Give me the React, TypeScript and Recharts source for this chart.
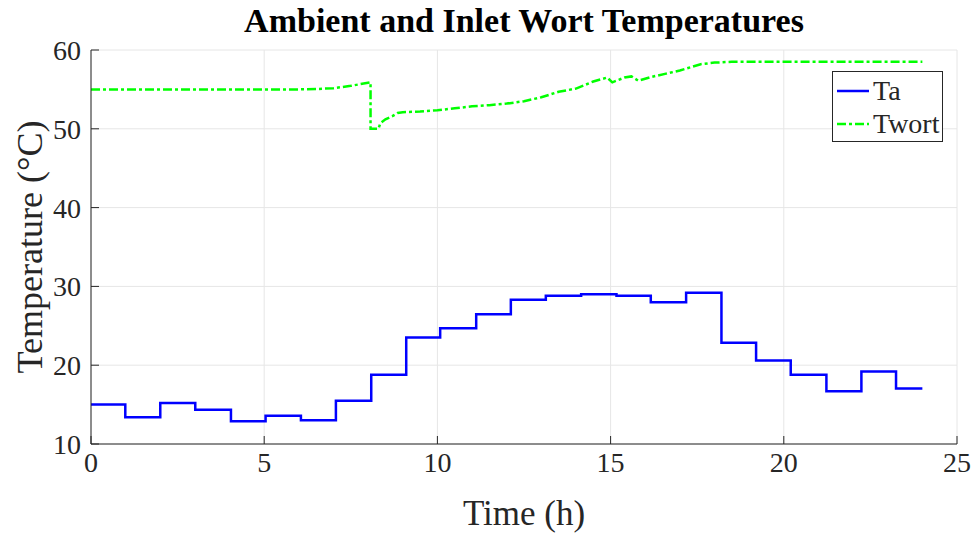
import { LineChart, Line, XAxis, YAxis, CartesianGrid, Legend } from 'recharts';

// Ambient temperature stairs: step start times (h) and the value held from each one
const taHours = [
  0, 0.99, 2.0, 3.01, 4.04, 5.04, 6.06, 7.07, 8.09, 9.1, 10.08, 11.12, 12.12, 13.13,
  14.15, 15.17, 16.16, 17.18, 18.2, 19.2, 20.2, 21.23, 22.24, 23.24, 24,
];
const taTemp = [
  15.0, 13.4, 15.2, 14.35, 12.9, 13.6, 13.0, 15.5, 18.8, 23.5, 24.7, 26.45, 28.3,
  28.8, 29.0, 28.8, 28.0, 29.2, 22.85, 20.6, 18.8, 16.7, 19.2, 17.05, 17.05,
];

// Inlet wort temperature
const twortTime = [
  0, 1, 2, 3, 4, 5, 6, 6.5, 7, 7.5, 8.07, 8.07, 8.3, 8.35, 8.5, 8.7, 8.85, 9, 9.5, 10,
  10.5, 11, 11.5, 12, 12.5, 13, 13.5, 14, 14.5, 14.9, 15.05, 15.4, 15.6, 15.8, 16.2,
  16.6, 17, 17.3, 17.6, 18, 18.5, 19, 20, 21, 22, 23, 24,
];
const twortTemp = [
  55, 55, 55, 55, 55, 55, 55, 55.05, 55.15, 55.45, 55.9, 50, 50, 50.7, 51.2, 51.6, 52.0,
  52.1, 52.2, 52.35, 52.6, 52.85, 53.0, 53.2, 53.5, 54.0, 54.7, 55.1, 56.0, 56.5, 55.9,
  56.5, 56.65, 56.1, 56.6, 57.0, 57.4, 57.8, 58.2, 58.4, 58.5, 58.5, 58.5, 58.5, 58.5,
  58.5, 58.5,
];

const xTicks = [0, 5, 10, 15, 20, 25];
const yTicks = [10, 20, 30, 40, 50, 60];

const taData = taHours.map((t, i) => ({ t, ta: taTemp[i] }));
const twortData = twortTime.map((t, i) => ({ t, twort: twortTemp[i] }));

const FONT = '"Liberation Serif", "DejaVu Serif", serif';
const INK = '#262626';
const BLUE = '#0000ff';
const GREEN = '#00ff00';
const DASH = '9 3 3 3';

const legendItems = [
  { name: 'Ta', color: BLUE, dash: undefined as string | undefined },
  { name: 'Twort', color: GREEN, dash: DASH },
];

function LegendBox() {
  return (
    <div
      style={{
        border: `1px solid ${INK}`,
        background: '#fff',
        padding: '2px 3px 1px 3px',
        fontFamily: FONT,
        fontSize: 28,
        color: INK,
        lineHeight: '33px',
      }}
    >
      {legendItems.map((it) => (
        <div key={it.name} style={{ display: 'flex', alignItems: 'center' }}>
          <svg width={34} height={10} style={{ marginRight: 3 }}>
            <line x1={1} y1={5} x2={33} y2={5} stroke={it.color} strokeWidth={2.5} strokeDasharray={it.dash} />
          </svg>
          <span>{it.name}</span>
        </div>
      ))}
    </div>
  );
}

const tickStyle = { fontFamily: FONT, fontSize: 28, fill: INK };

export default function App() {
  return (
    <div style={{ position: 'absolute', left: 0, top: 0, width: 977, height: 533, background: '#fff' }}>
      <div
        style={{
          position: 'absolute',
          left: 91,
          width: 866,
          top: 2,
          textAlign: 'center',
          fontFamily: FONT,
          fontWeight: 'bold',
          fontSize: 34,
          color: '#000',
        }}
      >
        Ambient and Inlet Wort Temperatures
      </div>
      <LineChart width={977} height={533} margin={{ top: 50, right: 20, bottom: 0, left: 0 }}>
        <CartesianGrid xAxisId="b" yAxisId="l" stroke="#e6e6e6" strokeWidth={1} />
        <XAxis
          xAxisId="b"
          dataKey="t"
          type="number"
          domain={[0, 25]}
          ticks={xTicks}
          height={89}
          stroke={INK}
          tickSize={-8}
          tickMargin={16}
          tick={tickStyle}
          label={{ value: 'Time (h)', position: 'insideBottom', offset: 8, style: { fontFamily: FONT, fontSize: 35, fill: INK } }}
        />
        <XAxis
          xAxisId="top"
          orientation="top"
          type="number"
          domain={[0, 25]}
          ticks={xTicks}
          height={0}
          stroke={INK}
          tickSize={-8}
          tickFormatter={() => ''}
        />
        <YAxis
          yAxisId="l"
          type="number"
          domain={[10, 60]}
          ticks={yTicks}
          width={91}
          stroke={INK}
          tickSize={-8}
          tickMargin={18}
          tick={tickStyle}
          label={{
            value: 'Temperature (°C)',
            angle: -90,
            position: 'insideLeft',
            offset: 29,
            style: { fontFamily: FONT, fontSize: 36, fill: INK, textAnchor: 'middle' },
          }}
        />
        <YAxis
          yAxisId="r"
          orientation="right"
          type="number"
          domain={[10, 60]}
          ticks={yTicks}
          width={0}
          stroke={INK}
          tickSize={-8}
          tickFormatter={() => ''}
        />
        <Legend
          layout="vertical"
          align="center"
          verticalAlign="middle"
          content={() => <LegendBox />}
          wrapperStyle={{ left: 832, top: 71, width: 'auto' }}
        />
        <Line
          xAxisId="b"
          yAxisId="l"
          data={taData}
          dataKey="ta"
          name="Ta"
          type="stepAfter"
          stroke={BLUE}
          strokeWidth={2.5}
          dot={false}
          isAnimationActive={false}
        />
        <Line
          xAxisId="b"
          yAxisId="l"
          data={twortData}
          dataKey="twort"
          name="Twort"
          type="linear"
          stroke={GREEN}
          strokeWidth={2.5}
          strokeDasharray={DASH}
          dot={false}
          isAnimationActive={false}
        />
      </LineChart>
    </div>
  );
}
